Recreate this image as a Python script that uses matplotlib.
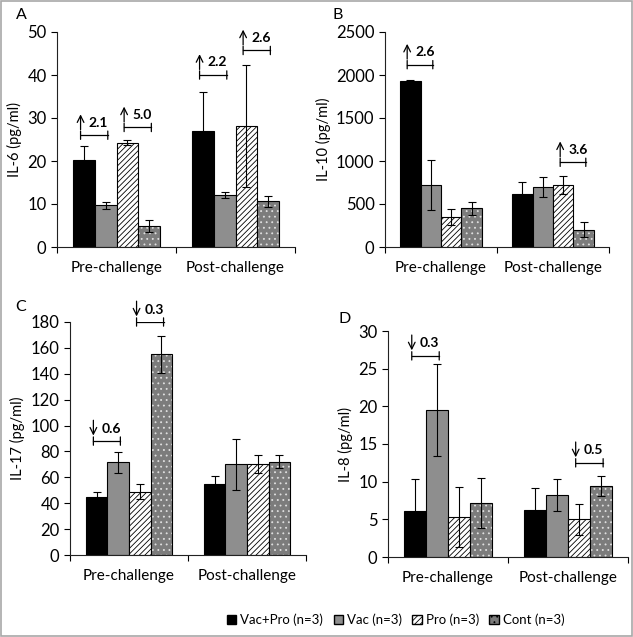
import numpy as np
import matplotlib
matplotlib.use("Agg")
import matplotlib.pyplot as plt
from matplotlib.patches import Rectangle, Patch
from matplotlib.transforms import ScaledTranslation

plt.rcParams["font.family"] = ["Lato", "DejaVu Sans"]
plt.rcParams["hatch.linewidth"] = 0.6

groups = ["Pre-challenge", "Post-challenge"]
series = ["Vac+Pro (n=3)", "Vac (n=3)", "Pro (n=3)", "Cont (n=3)"]

# rows = series, cols = [pre, post]
il6 = [[20.3, 27.0], [9.7, 12.1], [24.3, 28.2], [4.9, 10.6]]
il6_err = [[3.2, 9.0], [0.8, 0.8], [0.5, 14.2], [1.3, 1.2]]
il10 = [[1925, 620], [720, 700], [350, 720], [450, 200]]
il10_err = [[15, 135], [290, 115], [90, 105], [75, 85]]
il17 = [[44.5, 55.0], [71.5, 70.0], [49.0, 70.0], [155.0, 72.0]]
il17_err = [[4.5, 6.0], [8.0, 20.0], [6.0, 7.0], [14.5, 5.0]]
il8 = [[6.1, 6.3], [19.5, 8.2], [5.3, 5.0], [7.2, 9.4]]
il8_err = [[4.3, 2.8], [6.1, 2.1], [4.0, 2.1], [3.3, 1.3]]

# fold-change marks: (group, bar_i, bar_j, y, text, up)
il6_marks = [(0, 0, 1, 26.0, "2.1", True), (0, 2, 3, 27.8, "5.0", True),
             (1, 0, 1, 40.0, "2.2", True), (1, 2, 3, 45.7, "2.6", True)]
il10_marks = [(0, 0, 1, 2120, "2.6", True), (1, 2, 3, 985, "3.6", True)]
il17_marks = [(0, 0, 1, 88, "0.6", False), (0, 2, 3, 180, "0.3", False)]
il8_marks = [(0, 0, 1, 26.7, "0.3", False), (1, 2, 3, 12.5, "0.5", False)]

fig = plt.figure(figsize=(6.33, 6.37), dpi=100)


def px_axes(left, right, top, bottom):
    return fig.add_axes([left / 633, 1 - bottom / 637,
                         (right - left) / 633, (bottom - top) / 637])


bar_w = 0.183
cont_color = "#7c7c7c"
styles = [
    dict(color="black", edgecolor="black"),
    dict(color="#8e8e8e", edgecolor="black"),
    dict(color="white", edgecolor="black", hatch="//////"),
]


def shift(ax, dy):
    return ax.transData + ScaledTranslation(0, dy / 72, fig.dpi_scale_trans)


def draw_panel(ax, vals, errs, ymax, step, ylabel, letter, letter_xy, marks):
    x = np.arange(len(groups))
    for i in range(4):
        xs = x + (i - 1.5) * bar_w
        if i < 3:
            ax.bar(xs, vals[i], bar_w, linewidth=0.8, zorder=2, **styles[i])
        else:
            ax.bar(xs, vals[i], bar_w, color=cont_color, linewidth=0, zorder=2)
            ax.bar(xs, vals[i], bar_w, color="none", edgecolor="#e0e0e0",
                   hatch="...", linewidth=0, zorder=2)
            ax.bar(xs, vals[i], bar_w, color="none", edgecolor="black",
                   linewidth=0.8, zorder=2)
        ax.errorbar(xs, vals[i], yerr=errs[i], fmt="none", ecolor="black",
                    elinewidth=0.8, capsize=3, capthick=0.8, zorder=3)

    ax.set_xlim(-0.5, 1.5)
    ax.set_ylim(0, ymax)
    ax.set_yticks(np.arange(0, ymax + step / 2, step))
    ax.set_xticks([-0.5, 0.5, 1.5])
    ax.set_xticklabels([])
    ax.set_xticks(x, minor=True)
    ax.set_xticklabels(groups, minor=True)
    ax.tick_params(axis="x", which="major", direction="out", length=4, width=0.8)
    ax.tick_params(axis="x", which="minor", length=0, pad=10, labelsize=11)
    ax.tick_params(axis="y", direction="out", length=4, width=0.8, labelsize=12)
    for s in ["top", "right"]:
        ax.spines[s].set_visible(False)
    for s in ["left", "bottom"]:
        ax.spines[s].set_linewidth(0.8)
        ax.spines[s].set_color("#222222")
    ax.set_ylabel(ylabel, fontsize=10.5, labelpad=4)
    fig.text(letter_xy[0] / 633, 1 - letter_xy[1] / 637, letter, fontsize=11.5,
             ha="left", va="center")

    for g, i, j, y, txt, up in marks:
        x1 = g + (i - 1.5) * bar_w - 0.15 * bar_w
        x2 = g + (j - 1.5) * bar_w + 0.1 * bar_w
        ax.plot([x1, x2], [y, y], color="black", lw=0.9, zorder=4)
        for xe in (x1, x2):
            ax.annotate("", xy=(xe, y), xycoords=shift(ax, 3),
                        xytext=(xe, y), textcoords=shift(ax, -3),
                        arrowprops=dict(arrowstyle="-", lw=0.9, shrinkA=0, shrinkB=0))
        lo, hi = shift(ax, 4), shift(ax, 15)
        head, tail = (hi, lo) if up else (lo, hi)
        ax.annotate("", xy=(x1, y), xycoords=head, xytext=(x1, y), textcoords=tail,
                    arrowprops=dict(arrowstyle="->", lw=0.9, shrinkA=0, shrinkB=0,
                                    mutation_scale=12))
        ax.annotate(txt, xy=(x1, y), xycoords="data", xytext=(6, 9),
                    textcoords="offset points", fontsize=10, fontweight="bold",
                    ha="left", va="center")


axA = px_axes(57, 295, 32, 247)
draw_panel(axA, il6, il6_err, 50, 10, "IL-6 (pg/ml)", "A", (16, 15), il6_marks)
axB = px_axes(385, 609, 32, 247)
draw_panel(axB, il10, il10_err, 2500, 500, "IL-10 (pg/ml)", "B", (333, 15), il10_marks)
axC = px_axes(70, 306, 322, 555)
draw_panel(axC, il17, il17_err, 180, 20, "IL-17 (pg/ml)", "C", (15, 307), il17_marks)
axD = px_axes(388, 628, 331, 557)
draw_panel(axD, il8, il8_err, 30, 5, "IL-8 (pg/ml)", "D", (339, 319), il8_marks)

handles = [Patch(facecolor="black", edgecolor="black"),
           Patch(facecolor="#8e8e8e", edgecolor="black"),
           Patch(facecolor="white", edgecolor="black", hatch="//////"),
           Patch(facecolor=cont_color, edgecolor="black", hatch="...")]
fig.legend(handles, series, loc="center", bbox_to_anchor=(0.625, 0.027),
           ncol=4, frameon=False, fontsize=9.5, handlelength=0.7, handleheight=0.7,
           handletextpad=0.3, columnspacing=0.8)

fig.patches.append(Rectangle((0.001, 0.001), 0.997, 0.997, transform=fig.transFigure,
                             fill=False, edgecolor="#a8a8a8", lw=1.2))

fig.savefig("out.png", dpi=100)
